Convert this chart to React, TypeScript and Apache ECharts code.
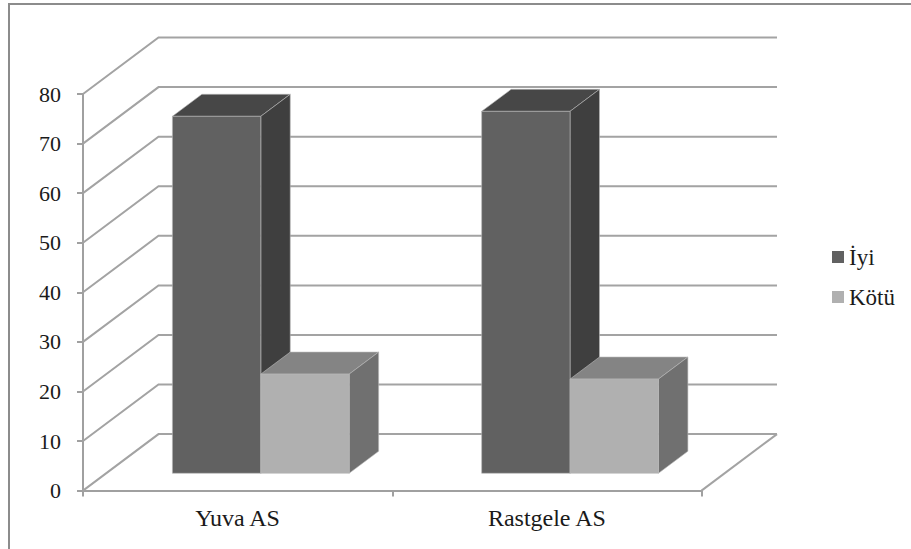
import React, { useEffect, useRef } from "react";
import * as echarts from "echarts";

const categories = ["Yuva AS", "Rastgele AS"];
const iyiValues = [72, 73];
const kotuValues = [20, 19];
const seriesNames = ["İyi", "Kötü"];
const valueTicks = [0, 10, 20, 30, 40, 50, 60, 70, 80];

// Perspective of the 3D box: how far the back wall sits from the front plane.
const WALL_DX = 75.5;
const WALL_DY = -56.5;
// Bars stand on the floor between these fractions of the depth.
const DEPTH_NEAR = 0.307;
const DEPTH_SPAN = 0.39;
const BAR_WIDTH = 88.4;

const FONT = "'Liberation Serif', serif";

function wallRenderItem(params: any, api: any) {
  const v = api.value(0);
  const cs = params.coordSys;
  const y = api.coord([0, v])[1];
  const x0 = cs.x;
  const x1 = cs.x + cs.width;
  const lineStyle = { stroke: "#a3a3a3", lineWidth: 2, fill: "none" };
  const children: any[] = [
    {
      type: "polyline",
      shape: {
        points: [
          [x0, y],
          [x0 + WALL_DX, y + WALL_DY],
          [x1 + WALL_DX, y + WALL_DY],
        ],
      },
      style: lineStyle,
    },
  ];
  if (v === 0) {
    children.push({
      type: "line",
      shape: { x1: x1 + WALL_DX, y1: y + WALL_DY, x2: x1, y2: y },
      style: lineStyle,
    });
  }
  return { type: "group", children };
}

function barRenderItem(side: -1 | 1, front: string, top: string, right: string) {
  return (params: any, api: any) => {
    const cat = api.value(0);
    const [cx, yTop] = api.coord([cat, api.value(1)]);
    const [, yBase] = api.coord([cat, 0]);
    const nearX = WALL_DX * DEPTH_NEAR;
    const nearY = WALL_DY * DEPTH_NEAR;
    const dx = WALL_DX * DEPTH_SPAN;
    const dy = WALL_DY * DEPTH_SPAN;
    const l = cx + nearX + (side < 0 ? -BAR_WIDTH : 0);
    const r = l + BAR_WIDTH;
    const t = yTop + nearY;
    const b = yBase + nearY;
    const edge = { stroke: "#b8b8b8", lineWidth: 0.6 };
    return {
      type: "group",
      children: [
        {
          type: "polygon",
          shape: { points: [[l, t], [l + dx, t + dy], [r + dx, t + dy], [r, t]] },
          style: { fill: top, ...edge },
        },
        {
          type: "polygon",
          shape: { points: [[r, t], [r + dx, t + dy], [r + dx, b + dy], [r, b]] },
          style: { fill: right, ...edge },
        },
        {
          type: "rect",
          shape: { x: l, y: t, width: BAR_WIDTH, height: b - t },
          style: { fill: front, ...edge },
        },
      ],
    };
  };
}

export default function App() {
  const ref = useRef<HTMLDivElement>(null);
  useEffect(() => {
    const chart = echarts.init(ref.current!, undefined, { renderer: "svg" });
    chart.setOption({
      animation: false,
      backgroundColor: "#ffffff",
      textStyle: { fontFamily: FONT },
      grid: { left: 83, top: 94, width: 618.5, height: 396.6 },
      xAxis: {
        type: "category",
        data: categories,
        boundaryGap: true,
        axisLine: { show: true, lineStyle: { color: "#a0a0a0", width: 2 } },
        axisTick: { show: true, length: 6, lineStyle: { color: "#a0a0a0", width: 2 } },
        axisLabel: { color: "#1a1a1a", fontSize: 24, fontFamily: FONT, margin: 15 },
        splitLine: { show: false },
      },
      yAxis: {
        type: "value",
        min: 0,
        max: 80,
        interval: 10,
        axisLine: { show: true, lineStyle: { color: "#a0a0a0", width: 2 } },
        axisTick: { show: true, length: 6, lineStyle: { color: "#a0a0a0", width: 2 } },
        axisLabel: {
          color: "#1a1a1a",
          fontSize: 22,
          fontFamily: FONT,
          margin: 22,
          padding: [2, 0, 0, 0],
        },
        splitLine: { show: false },
      },
      legend: {
        orient: "vertical",
        left: 832,
        top: 245,
        padding: 0,
        itemWidth: 12,
        itemHeight: 12,
        itemGap: 16,
        icon: "rect",
        textStyle: { color: "#1a1a1a", fontSize: 23, lineHeight: 24, fontFamily: FONT },
        data: seriesNames,
      },
      graphic: [
        {
          type: "line",
          silent: true,
          shape: { x1: 9, y1: 3, x2: 9, y2: 549 },
          style: { stroke: "#8c8c8c", lineWidth: 2 },
        },
        {
          type: "line",
          silent: true,
          shape: { x1: 8, y1: 4, x2: 911, y2: 4 },
          style: { stroke: "#8c8c8c", lineWidth: 2 },
        },
      ],
      series: [
        {
          type: "custom",
          name: "walls",
          silent: true,
          renderItem: wallRenderItem,
          data: valueTicks.map((v) => [v]),
          encode: { y: 0 },
          clip: false,
          z: 1,
        },
        {
          type: "custom",
          name: seriesNames[0],
          renderItem: barRenderItem(-1, "#616161", "#474747", "#3f3f3f"),
          data: iyiValues.map((v, i) => [i, v]),
          encode: { x: 0, y: 1 },
          itemStyle: { color: "#616161" },
          clip: false,
          z: 2,
        },
        {
          type: "custom",
          name: seriesNames[1],
          renderItem: barRenderItem(1, "#b0b0b0", "#848484", "#707070"),
          data: kotuValues.map((v, i) => [i, v]),
          encode: { x: 0, y: 1 },
          itemStyle: { color: "#b0b0b0" },
          clip: false,
          z: 3,
        },
      ],
    });
    return () => chart.dispose();
  }, []);
  return (
    <div
      ref={ref}
      style={{ position: "absolute", left: 0, top: 0, width: 911, height: 549 }}
    />
  );
}
